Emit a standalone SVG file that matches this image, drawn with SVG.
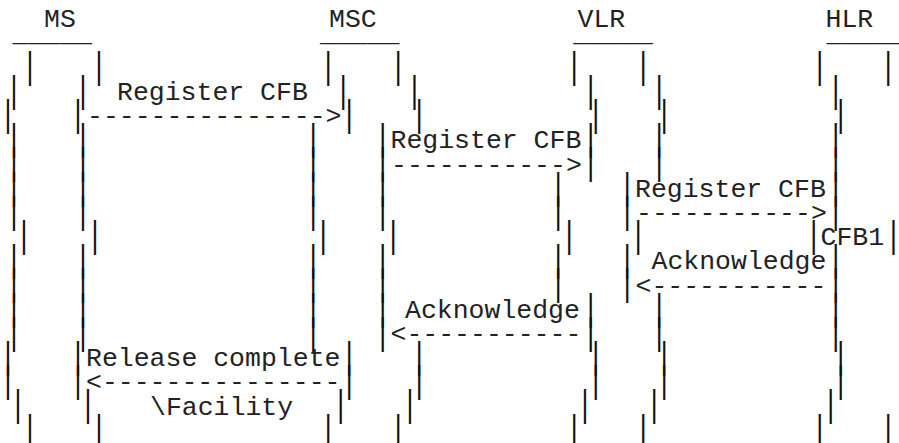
<svg xmlns="http://www.w3.org/2000/svg" width="899" height="443" viewBox="0 0 899 443">
<style>
text{font-family:"Liberation Mono","DejaVu Sans Mono",monospace;font-size:26.5px;fill:#222;white-space:pre}
.b{text-anchor:middle;fill:#111}
</style>
<rect width="899" height="443" fill="#fff"/>
<g id="ms">
<text x="44" y="27.4">MS</text>
<text x="12.5" y="40.5">_____</text>
<text class="b" x="30 99" y="0" transform="translate(0,77.5) scale(1,1.364)">||</text>
<text class="b" x="14 83" y="0" transform="translate(0,101.7) scale(1,1.364)">||</text>
<text class="b" x="8 78" y="0" transform="translate(0,125.9) scale(1,1.364)">||</text>
<text class="b" x="14 83" y="0" transform="translate(0,150.1) scale(1,1.364)">||</text>
<text class="b" x="14 83" y="0" transform="translate(0,174.3) scale(1,1.364)">||</text>
<text class="b" x="14 83" y="0" transform="translate(0,198.5) scale(1,1.364)">||</text>
<text class="b" x="14 83" y="0" transform="translate(0,222.7) scale(1,1.364)">||</text>
<text class="b" x="24 95" y="0" transform="translate(0,246.9) scale(1,1.364)">||</text>
<text class="b" x="14 83" y="0" transform="translate(0,271.1) scale(1,1.364)">||</text>
<text class="b" x="14 83" y="0" transform="translate(0,295.3) scale(1,1.364)">||</text>
<text class="b" x="14 83" y="0" transform="translate(0,319.5) scale(1,1.364)">||</text>
<text class="b" x="14 83" y="0" transform="translate(0,343.7) scale(1,1.364)">||</text>
<text class="b" x="8 78" y="0" transform="translate(0,367.9) scale(1,1.364)">||</text>
<text class="b" x="8 78" y="0" transform="translate(0,392.1) scale(1,1.364)">||</text>
<text class="b" x="18 88" y="0" transform="translate(0,416.3) scale(1,1.364)">||</text>
<text class="b" x="30 99" y="0" transform="translate(0,440.5) scale(1,1.364)">||</text>
</g>
<g id="msc">
<text x="329" y="27.4">MSC</text>
<text x="320" y="40.5">_____</text>
<text class="b" x="328.3 398.3" y="0" transform="translate(0,77.5) scale(1,1.364)">||</text>
<text class="b" x="343.3 414.5" y="0" transform="translate(0,101.7) scale(1,1.364)">||</text>
<text class="b" x="349.3 419.3" y="0" transform="translate(0,125.9) scale(1,1.364)">||</text>
<text class="b" x="313.3 382.7" y="0" transform="translate(0,150.1) scale(1,1.364)">||</text>
<text class="b" x="313.3 382.7" y="0" transform="translate(0,174.3) scale(1,1.364)">||</text>
<text class="b" x="313.3 382.7" y="0" transform="translate(0,198.5) scale(1,1.364)">||</text>
<text class="b" x="313.3 382.7" y="0" transform="translate(0,222.7) scale(1,1.364)">||</text>
<text class="b" x="323.3 393.3" y="0" transform="translate(0,246.9) scale(1,1.364)">||</text>
<text class="b" x="313.3 382.7" y="0" transform="translate(0,271.1) scale(1,1.364)">||</text>
<text class="b" x="313.3 382.7" y="0" transform="translate(0,295.3) scale(1,1.364)">||</text>
<text class="b" x="313.3 382.7" y="0" transform="translate(0,319.5) scale(1,1.364)">||</text>
<text class="b" x="313.3 382.7" y="0" transform="translate(0,343.7) scale(1,1.364)">||</text>
<text class="b" x="349.3 419.3" y="0" transform="translate(0,367.9) scale(1,1.364)">||</text>
<text class="b" x="349.3 419.3" y="0" transform="translate(0,392.1) scale(1,1.364)">||</text>
<text class="b" x="340.7 410" y="0" transform="translate(0,416.3) scale(1,1.364)">||</text>
<text class="b" x="328.3 398.3" y="0" transform="translate(0,440.5) scale(1,1.364)">||</text>
</g>
<g id="vlr">
<text x="577.5" y="27.4">VLR</text>
<text x="573.3" y="40.5">_____</text>
<text class="b" x="574.3 643.3" y="0" transform="translate(0,77.5) scale(1,1.364)">||</text>
<text class="b" x="590.7 659.3" y="0" transform="translate(0,101.7) scale(1,1.364)">||</text>
<text class="b" x="595.7 664.3" y="0" transform="translate(0,125.9) scale(1,1.364)">||</text>
<text class="b" x="590.7 659.3" y="0" transform="translate(0,150.1) scale(1,1.364)">||</text>
<text class="b" x="590.7 659.3" y="0" transform="translate(0,174.3) scale(1,1.364)">||</text>
<text class="b" x="558.3 627.3" y="0" transform="translate(0,198.5) scale(1,1.364)">||</text>
<text class="b" x="558.3 627.3" y="0" transform="translate(0,222.7) scale(1,1.364)">||</text>
<text class="b" x="569.3 638.3" y="0" transform="translate(0,246.9) scale(1,1.364)">||</text>
<text class="b" x="558.3 627.3" y="0" transform="translate(0,271.1) scale(1,1.364)">||</text>
<text class="b" x="558.3 627.3" y="0" transform="translate(0,295.3) scale(1,1.364)">||</text>
<text class="b" x="590.7 659.3" y="0" transform="translate(0,319.5) scale(1,1.364)">||</text>
<text class="b" x="590.7 659.3" y="0" transform="translate(0,343.7) scale(1,1.364)">||</text>
<text class="b" x="595.7 664.3" y="0" transform="translate(0,367.9) scale(1,1.364)">||</text>
<text class="b" x="595.7 664.3" y="0" transform="translate(0,392.1) scale(1,1.364)">||</text>
<text class="b" x="585 654.3" y="0" transform="translate(0,416.3) scale(1,1.364)">||</text>
<text class="b" x="574.3 643.3" y="0" transform="translate(0,440.5) scale(1,1.364)">||</text>
</g>
<g id="hlr">
<text x="825.5" y="27.4">HLR</text>
<text x="826.5" y="40.5">_____</text>
<text class="b" x="819.7 888.3" y="0" transform="translate(0,77.5) scale(1,1.364)">||</text>
<text class="b" x="835.7" y="0" transform="translate(0,101.7) scale(1,1.364)">|</text>
<text class="b" x="840.7" y="0" transform="translate(0,125.9) scale(1,1.364)">|</text>
<text class="b" x="835.7" y="0" transform="translate(0,150.1) scale(1,1.364)">|</text>
<text class="b" x="835.7" y="0" transform="translate(0,174.3) scale(1,1.364)">|</text>
<text class="b" x="835.7" y="0" transform="translate(0,198.5) scale(1,1.364)">|</text>
<text class="b" x="835.7" y="0" transform="translate(0,222.7) scale(1,1.364)">|</text>
<text class="b" x="813.8 893.5" y="0" transform="translate(0,246.9) scale(1,1.364)">||</text>
<text x="820.5" y="245.2">CFB1</text>
<text class="b" x="835.7" y="0" transform="translate(0,271.1) scale(1,1.364)">|</text>
<text class="b" x="835.7" y="0" transform="translate(0,295.3) scale(1,1.364)">|</text>
<text class="b" x="835.7" y="0" transform="translate(0,319.5) scale(1,1.364)">|</text>
<text class="b" x="835.7" y="0" transform="translate(0,343.7) scale(1,1.364)">|</text>
<text class="b" x="840.7" y="0" transform="translate(0,367.9) scale(1,1.364)">|</text>
<text class="b" x="840.7" y="0" transform="translate(0,392.1) scale(1,1.364)">|</text>
<text class="b" x="830.7" y="0" transform="translate(0,416.3) scale(1,1.364)">|</text>
<text class="b" x="819.7 888.3" y="0" transform="translate(0,440.5) scale(1,1.364)">||</text>
</g>
<g id="connectors">
<text x="117" y="100">Register CFB</text>
<text x="87" y="124.2">---------------&gt;</text>
<text x="390.5" y="148.4">Register CFB</text>
<text x="391" y="172.6">-----------&gt;</text>
<text x="635" y="196.8">Register CFB</text>
<text x="636" y="221">-----------&gt;</text>
<text x="651.5" y="269.4">Acknowledge</text>
<text x="635.5" y="293.6">&lt;-----------</text>
<text x="405" y="317.8">Acknowledge</text>
<text x="390.5" y="342">&lt;-----------</text>
<text x="86" y="366.2">Release complete</text>
<text x="86" y="390.4">&lt;---------------</text>
<text x="150" y="414.6">\Facility</text>
</g>
</svg>
